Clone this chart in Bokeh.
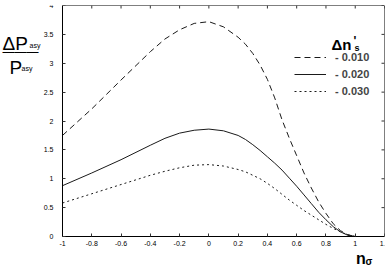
import math
from bokeh.plotting import figure
from bokeh.models import (Range1d, FixedTicker, LinearAxis, Label, Legend,
                          LegendItem)
from bokeh.embed import file_html
from bokeh.resources import INLINE

# ---- data ----
n_sigma = [-1.0, -0.8, -0.6, -0.4, -0.3, -0.2, -0.1, 0.0, 0.1, 0.2, 0.25,
           0.3, 0.35, 0.4, 0.45, 0.5, 0.55, 0.6, 0.65, 0.7, 0.75, 0.8, 0.85,
           0.9, 0.95, 1.0]
dp_010 = [1.75, 2.21, 2.71, 3.20, 3.42, 3.58, 3.69, 3.72, 3.63, 3.45, 3.33,
          3.17, 2.97, 2.72, 2.40, 2.02, 1.70, 1.40, 1.10, 0.84, 0.60, 0.40,
          0.22, 0.10, 0.03, 0.0]
dp_020 = [0.88, 1.10, 1.33, 1.58, 1.70, 1.79, 1.84, 1.86, 1.83, 1.75, 1.68,
          1.59, 1.49, 1.38, 1.27, 1.15, 1.01, 0.87, 0.72, 0.57, 0.42, 0.29,
          0.17, 0.08, 0.02, 0.0]
dp_030 = [0.58, 0.74, 0.90, 1.06, 1.13, 1.19, 1.235, 1.245, 1.22, 1.16, 1.12,
          1.06, 1.00, 0.92, 0.83, 0.73, 0.63, 0.54, 0.45, 0.37, 0.29, 0.21,
          0.14, 0.08, 0.03, 0.0]
series_labels = ["- 0.010", "- 0.020", "- 0.030"]

x_min, x_max = -1.0, 1.2
y_min, y_max = 0.0, 4.0
x_ticks = [-1.0, -0.8, -0.6, -0.4, -0.2, 0.0, 0.2, 0.4, 0.6, 0.8, 1.0, 1.2]
x_tick_labels = ["-1", "-0.8", "-0.6", "-0.4", "-0.2", "0", "0.2", "0.4",
                 "0.6", "0.8", "1", "1.2"]
y_ticks = [0, 0.5, 1, 1.5, 2, 2.5, 3, 3.5, 4]
y_tick_labels = ["0", "0.5", "1", "1.5", "2", "2.5", "3", "3.5", "4"]

FONT = "Liberation Sans"
INK = "#1a1a1a"
TICK = "#333333"

# The plotting box spans page x 62..384 and y 5..236; the frame is widened to the
# whole canvas so that the titles drawn in the margins are not clipped.
W, H = 389, 266
BOX_L, BOX_R, BOX_T, BOX_B = 62, 384, 5, 236
x_scale = (BOX_R - BOX_L) / (x_max - x_min)
y_scale = (BOX_B - BOX_T) / (y_max - y_min)
x_lo = x_min - BOX_L / x_scale
y_lo = y_min - (H - BOX_B) / y_scale

p = figure(width=W, height=H, x_range=Range1d(x_lo, x_max),
           y_range=Range1d(y_lo, y_max), output_backend="svg",
           toolbar_location=None, min_border_left=0, min_border_right=W - BOX_R,
           min_border_top=BOX_T, min_border_bottom=0)
p.xgrid.visible = False
p.ygrid.visible = False
p.outline_line_color = None
p.background_fill_color = "white"
p.border_fill_color = "white"


def style_axis(ax, ticks, labels, standoff, bounds):
    ax.ticker = FixedTicker(ticks=ticks)
    ax.bounds = bounds
    ax.axis_line_color = "black"
    ax.axis_line_width = 1
    ax.major_tick_in = 3
    ax.major_tick_out = 0
    ax.minor_tick_in = 0
    ax.minor_tick_out = 0
    ax.major_tick_line_color = TICK
    ax.major_label_text_font = FONT
    ax.major_label_text_color = "black"
    ax.major_label_overrides = dict(zip(ticks, labels))
    ax.major_label_text_font_size = "7px"
    ax.major_label_standoff = standoff


style_axis(p.xaxis[0], x_ticks, x_tick_labels, 4, (x_min, x_max))
p.xaxis[0].fixed_location = y_min
style_axis(p.yaxis[0], y_ticks, y_tick_labels, 9, (y_min, y_max))
p.yaxis[0].fixed_location = x_min

# top and right edges of the box: plain axis lines without ticks or labels
top_ax = LinearAxis(ticker=FixedTicker(ticks=[]), bounds=(x_min, x_max),
                    fixed_location=y_max, axis_line_color="black",
                    major_tick_in=0, major_tick_out=0, minor_tick_in=0,
                    minor_tick_out=0)
p.add_layout(top_ax, "above")
right_ax = LinearAxis(ticker=FixedTicker(ticks=[]), bounds=(y_min, y_max),
                      fixed_location=x_max, axis_line_color="black",
                      major_tick_in=0, major_tick_out=0, minor_tick_in=0,
                      minor_tick_out=0)
p.add_layout(right_ax, "right")

# mirrored inward tick marks on the top and right edges
p.ray(x=x_ticks, y=[y_max] * len(x_ticks), length=3, length_units="screen",
      angle=-math.pi / 2, line_color=TICK, line_width=1)
p.ray(x=[x_max] * len(y_ticks), y=y_ticks, length=3, length_units="screen",
      angle=math.pi, line_color=TICK, line_width=1)

r1 = p.line(n_sigma, dp_010, line_color=INK, line_width=1, line_dash="6 4")
r2 = p.line(n_sigma, dp_020, line_color=INK, line_width=1)
r3 = p.line(n_sigma, dp_030, line_color=INK, line_width=1, line_dash="2 3")

legend = Legend(items=[LegendItem(label=series_labels[0], renderers=[r1]),
                       LegendItem(label=series_labels[1], renderers=[r2]),
                       LegendItem(label=series_labels[2], renderers=[r3])],
                location=(294, 168), border_line_color=None,
                background_fill_alpha=0, label_text_font=FONT,
                label_text_font_style="bold", label_text_font_size="11px",
                glyph_width=32, glyph_height=14, label_height=14, spacing=3,
                padding=0, margin=0, label_standoff=9)
p.add_layout(legend)


def add_text(text, x, y, size, bold=False):
    p.add_layout(Label(x=x, y=H - y, x_units="screen", y_units="screen",
                       text=text, text_font=FONT, text_font_size=size,
                       text_font_style="bold" if bold else "normal",
                       text_color="black", text_baseline="alphabetic"))


# legend title  Δn's   (x, baseline y in page pixels from the top)
add_text("Δn", 331, 44, "15px", bold=True)
add_text("'", 353, 40, "12px", bold=True)
add_text("s", 354, 47, "9px", bold=True)

# y-axis title: ΔP_asy / P_asy
add_text("ΔP", 2, 43, "19px")
add_text("asy", 29, 45, "7px")
add_text("\u2014\u2014\u2014", 2, 51, "12px")
add_text("P", 9, 67, "19px")
add_text("asy", 21, 68, "7px")

# x-axis title: n_σ
add_text("n", 355.5, 258, "16px", bold=True)
add_text("σ", 365, 261, "10px", bold=True)

open("out.html", "w").write(file_html(p, INLINE))
